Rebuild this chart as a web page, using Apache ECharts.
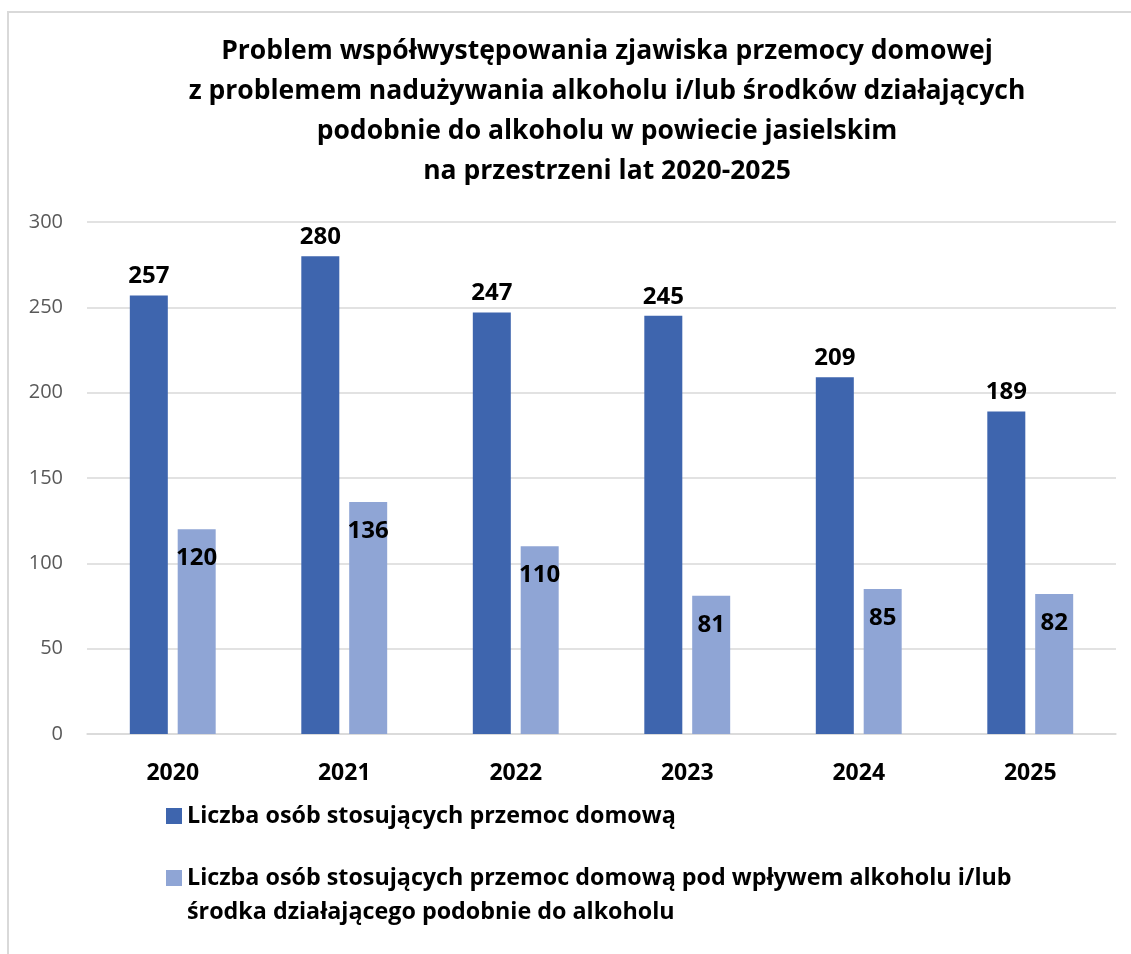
<!DOCTYPE html>
<html>
<head>
<meta charset="utf-8">
<script src="https://cdn.jsdelivr.net/npm/echarts@6/dist/echarts.min.js"></script>
<style>
  html, body { margin: 0; padding: 0; background: #fff; }
  #main { width: 1131px; height: 954px; }
</style>
</head>
<body>
<div id="main"></div>
<script>
// dane
const years = ['2020', '2021', '2022', '2023', '2024', '2025']
const sprawcy = [257, 280, 247, 245, 209, 189]
const sprawcyAlkohol = [120, 136, 110, 81, 85, 82]
const yTicks = { min: 0, max: 300, interval: 50 }

const nameA = 'Liczba osób stosujących przemoc domową'
const nameB = 'Liczba osób stosujących przemoc domową pod wpływem alkoholu i/lub środka działającego podobnie do alkoholu'

const font = '"Open Sans", sans-serif'
const dark = '#3e65ae'
const light = '#8fa5d5'

const chart = echarts.init(document.getElementById('main'))

const option = {
  animation: false,
  textStyle: { fontFamily: font },
  graphic: [
    {
      type: 'rect',
      shape: { x: 8, y: 12, width: 1200, height: 1000 },
      style: { fill: 'none', stroke: '#d9d9d9', lineWidth: 2 },
      silent: true
    }
  ],
  title: {
    text: 'Problem współwystępowania zjawiska przemocy domowej\nz problemem nadużywania alkoholu i/lub środków działających\npodobnie do alkoholu w powiecie jasielskim\nna przestrzeni lat 2020-2025',
    left: 602,
    top: 26,
    textAlign: 'center',
    textStyle: {
      fontFamily: font,
      fontSize: 26.5,
      fontWeight: 'bold',
      color: '#000',
      lineHeight: 40
    }
  },
  legend: [
    {
      data: [nameA],
      left: 166,
      top: 799,
      padding: 0,
      itemWidth: 16,
      itemHeight: 16,
      icon: 'rect',
      textStyle: { fontFamily: font, fontSize: 23.3, fontWeight: 'bold', color: '#000', lineHeight: 34 }
    },
    {
      data: [nameB],
      left: 166,
      top: 827,
      padding: 0,
      itemWidth: 16,
      itemHeight: 16,
      icon: 'rect',
      // pusta linia u góry, żeby ikona stała przy pierwszym wierszu
      formatter: () => '\nLiczba osób stosujących przemoc domową pod wpływem alkoholu i/lub\nśrodka działającego podobnie do alkoholu',
      textStyle: {
        fontFamily: font, fontSize: 23.3, fontWeight: 'bold', color: '#000',
        lineHeight: 34
      }
    }
  ],
  grid: { left: 87, right: 15, top: 222, bottom: 220 },
  xAxis: {
    type: 'category',
    data: years,
    axisLine: { lineStyle: { color: '#d9d9d9', width: 1.5 } },
    axisTick: { show: false },
    axisLabel: { color: '#000', fontSize: 23, fontWeight: 'bold', margin: 28, fontFamily: font }
  },
  yAxis: {
    type: 'value',
    min: yTicks.min,
    max: yTicks.max,
    interval: yTicks.interval,
    axisLine: { show: false },
    axisTick: { show: false },
    axisLabel: { color: '#595959', fontSize: 20, margin: 24, fontFamily: font },
    splitLine: { lineStyle: { color: '#d9d9d9', width: 1.5 } }
  },
  series: [
    {
      name: nameA,
      type: 'bar',
      data: sprawcy,
      barWidth: 38,
      barGap: '26%',
      itemStyle: { color: dark },
      label: {
        show: true,
        position: 'top',
        distance: 7,
        color: '#000',
        fontSize: 24,
        fontWeight: 'bold',
        fontFamily: font
      }
    },
    {
      name: nameB,
      type: 'bar',
      data: sprawcyAlkohol,
      barWidth: 38,
      itemStyle: { color: light },
      label: {
        show: true,
        position: 'insideTop',
        distance: 17,
        color: '#000',
        fontSize: 24,
        fontWeight: 'bold',
        fontFamily: font
      }
    }
  ]
}

chart.setOption(option)
</script>
</body>
</html>
